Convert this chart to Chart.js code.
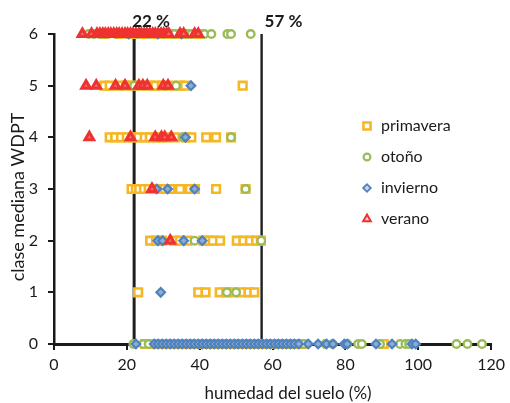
<!DOCTYPE html>
<html><head><meta charset="utf-8">
<script src="https://cdn.jsdelivr.net/npm/chart.js@4/dist/chart.umd.min.js"></script>
<style>html,body{margin:0;padding:0;background:#fff}#wrap{width:510px;height:403px}</style>
</head><body><div id="wrap"><canvas id="c" width="510" height="403"></canvas></div>
<script>
// soil moisture values (%) per WDPT class (index = class 0..6)
const seriesNames = ['primavera', 'otoño', 'invierno', 'verano'];
const primavera = [
  [25, 27.5, 29, 30.5, 32, 33.5, 35, 36.5, 38, 39.5, 41, 42.5, 44, 46, 48, 50, 52, 53.5, 55, 56.5, 58, 59.5, 62, 64, 66, 68, 90.5],
  [23.1, 39.6, 41.6, 45.5, 47.3, 49.2, 51.4, 53.4, 55],
  [26.4, 28, 29.6, 33, 34.6, 36.6, 41, 42.5, 43.6, 45.6, 50.2, 52, 53.8, 55.5, 56.8],
  [21.3, 22.5, 23.4, 24.7, 26, 28.8, 30.4, 32, 34.6, 37.3, 38.7, 44.5, 52.6],
  [15.3, 16.8, 18.4, 20, 21.6, 23.2, 24.9, 26.3, 27.9, 29.4, 31, 33.2, 36.2, 37.7, 41.8, 44.5, 48.6],
  [13.8, 15.3, 17.8, 19.8, 21.5, 23.8, 26.4, 27.8, 29.6, 32.3, 34.6, 36, 51.8],
  [14, 18, 22, 25, 28, 31, 33.2, 34.6, 36.5, 39.6]
];
const otono = [
  [21.8, 24.5, 26, 28, 32, 35, 38, 40.5, 42, 44, 47, 50, 53, 56, 59, 61, 62.5, 64, 65.5, 67, 68.5, 74.5, 76.5, 80.5, 83.5, 84.5, 89.5, 95, 96.5, 97.5, 110.5, 113.5, 117.5],
  [47.5, 50],
  [38.6, 56.9],
  [52.6],
  [35.5, 48.6],
  [22, 30.5, 33.5],
  [9.5, 11, 12.5, 14, 17, 20, 23, 26, 30, 33, 36.5, 37.8, 41.3, 43.2, 47.6, 48.6, 54]
];
const invierno = [
  [22.5, 27.5, 28.6, 29.7, 30.8, 31.9, 33, 34.1, 35.2, 36.3, 37.4, 38.5, 39.6, 40.7, 41.8, 42.9, 44, 45.1, 46.2, 47.3, 48.4, 49.5, 50.6, 51.7, 52.8, 53.9, 55, 56.1, 57.2, 58.3, 59.4, 60.5, 61.6, 62.7, 63.8, 64.9, 66, 67.2, 69.8, 72.5, 74.8, 76.6, 79.7, 80.5, 88.4, 92.8, 98.3, 99.3],
  [29.3],
  [28.5, 29.8, 35.6, 40.7],
  [28.2, 31.2, 38.6],
  [36.1],
  [37.6],
  [20.5, 28.5, 35]
];
const verano = [
  [],
  [],
  [31.9],
  [26.9],
  [9.7, 21, 27.8, 29.5, 30.4, 32.2],
  [8.8, 11.6, 16.9, 19.5, 23.3, 24.4, 25.6, 30, 31.3],
  [7.8, 10.3, 11.8, 12.6, 13.4, 14.1, 14.9, 15.6, 16.4, 17.2, 17.9, 18.7, 19.5, 20.2, 21, 21.7, 22.5, 23.3, 24, 24.8, 25.5, 26.3, 27.1, 27.8, 28.6, 29.4, 30.1, 30.9, 31.5, 34.6, 35.6, 38.6, 39.6]
];
const thresholds = [22, 57];
const thresholdLabels = ['22 %', '57 %'];
const xTitle = 'humedad del suelo (%)';
const yTitle = 'clase mediana WDPT';

const styles = [
  {color: '#F5B723', pointStyle: 'rect', radius: 5.4, bw: 2.6, fill: '#fff', order: 3},
  {color: '#9BBB59', pointStyle: 'circle', radius: 3.8, bw: 2.4, fill: '#fff', order: 2},
  {color: '#4F81BD', pointStyle: 'rectRot', radius: 4.3, bw: 2.2, fill: '#8EADD6', order: 1},
  {color: '#EE3230', pointStyle: 'triangle', radius: 5, bw: 3, fill: '#F36E6B', order: 0}
];
const legendStyles = [
  {radius: 5, bw: 2.6, fill: '#fff'},
  {radius: 3.4, bw: 2.2, fill: '#fff'},
  {radius: 3.8, bw: 1.8, fill: '#C9D8EC'},
  {radius: 4.4, bw: 2, fill: '#FBD4D3'}
];
const allSeries = [primavera, otono, invierno, verano];

function toPoints(rows) {
  const pts = [];
  rows.forEach((xs, cls) => xs.forEach(x => pts.push({x: x, y: cls})));
  return pts;
}

const datasets = allSeries.map((s, i) => ({
  label: seriesNames[i],
  data: toPoints(s),
  pointStyle: styles[i].pointStyle,
  pointRadius: styles[i].radius,
  pointBorderWidth: styles[i].bw,
  borderColor: styles[i].color,
  backgroundColor: styles[i].fill,
  order: styles[i].order,
  showLine: false,
  clip: false
}));
thresholds.forEach((t, i) => datasets.push({
  label: 'umbral' + i,
  data: [{x: t, y: 0}, {x: t, y: 6}],
  showLine: true,
  borderColor: '#231F20',
  borderWidth: i === 0 ? 3 : 2.4,
  pointRadius: 0,
  order: 5,
  clip: false
}));

const FONT = 'Lato, "Open Sans", sans-serif';

const extras = {
  id: 'extras',
  afterDraw(chart) {
    const ctx = chart.ctx;
    const xs = chart.scales.x;
    ctx.save();
    ctx.fillStyle = '#1a1a1a';
    ctx.font = 'bold 17px ' + FONT;
    ctx.textBaseline = 'middle';
    ctx.textAlign = 'left';
    thresholds.forEach((t, i) => {
      ctx.fillText(thresholdLabels[i], xs.getPixelForValue(t) - 2 + i * 5, 22);
    });
    // axis titles
    ctx.font = '17px ' + FONT;
    ctx.textAlign = 'center';
    ctx.fillText(xTitle, 288, 394);
    ctx.save();
    ctx.translate(18, 197);
    ctx.rotate(-Math.PI / 2);
    ctx.font = '18px ' + FONT;
    ctx.fillText(yTitle, 0, 0);
    ctx.restore();
    // legend
    const lx = 367, ly0 = 126, dy = 31;
    ctx.font = '16px ' + FONT;
    ctx.textAlign = 'left';
    seriesNames.forEach((n, i) => {
      const y = ly0 + dy * i;
      ctx.strokeStyle = styles[i].color;
      ctx.fillStyle = legendStyles[i].fill;
      ctx.lineWidth = legendStyles[i].bw;
      Chart.helpers.drawPoint(ctx, {pointStyle: styles[i].pointStyle, radius: legendStyles[i].radius, borderWidth: legendStyles[i].bw, rotation: 0}, lx, y);
      ctx.fillStyle = '#1a1a1a';
      ctx.fillText(n, lx + 14, y);
    });
    ctx.restore();
  }
};

new Chart(document.getElementById('c'), {
  type: 'scatter',
  data: {datasets: datasets},
  plugins: [extras],
  options: {
    responsive: false,
    animation: false,
    layout: {padding: {top: 34, right: 14, left: 0, bottom: 0}},
    plugins: {legend: {display: false}, tooltip: {enabled: false}},
    scales: {
      x: {
        type: 'linear', min: 0, max: 120,
        afterFit(s) { s.height = 59; },
        ticks: {stepSize: 20, color: '#1a1a1a', font: {family: FONT, size: 16}, padding: 5, maxRotation: 0},
        grid: {display: true, drawOnChartArea: false, drawTicks: true, tickLength: 6, color: '#1a1a1a', lineWidth: 2},
        border: {display: true, color: '#1a1a1a', width: 3},
        title: {display: false}
      },
      y: {
        type: 'linear', min: 0, max: 6,
        afterFit(s) { s.width = 54; },
        ticks: {stepSize: 1, color: '#1a1a1a', font: {family: FONT, size: 16}, padding: 10},
        grid: {display: true, drawOnChartArea: false, drawTicks: true, tickLength: 6, color: '#1a1a1a', lineWidth: 2},
        border: {display: true, color: '#1a1a1a', width: 2.5},
        title: {display: false}
      }
    }
  }
});
</script>
</body></html>
